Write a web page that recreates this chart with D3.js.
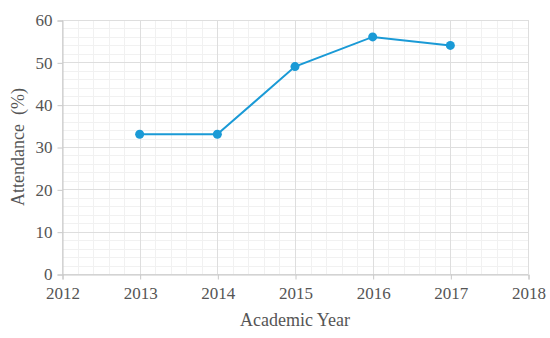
<!DOCTYPE html>
<html>
<head>
<meta charset="utf-8">
<script src="https://cdn.jsdelivr.net/npm/d3@7"></script>
<style>
  body { margin: 0; background: #fff; }
  svg text { font-family: "Liberation Serif", "Times New Roman", serif; }
</style>
</head>
<body>
<div class="chart"></div>
<script>
const years = [2013, 2014, 2015, 2016, 2017];
const attendance = [33, 33, 49, 56, 54];
const xTicks = [2012, 2013, 2014, 2015, 2016, 2017, 2018];
const yTicks = [0, 10, 20, 30, 40, 50, 60];

const WIDTH = 550;
const HEIGHT = 338;
const LEFT = 62;
const RIGHT = 528;
const TOP = 20;
const BOTTOM = 274;
const FONT = "Liberation Serif, Times New Roman, serif";

const svg = d3.create("svg").attr("width", WIDTH).attr("height", HEIGHT);

const x = d3.scaleLinear().domain([2012, 2018]).range([LEFT, RIGHT]);
const y = d3.scaleLinear().domain([0, 60]).range([BOTTOM, TOP]);

// minor grid
const minorX = d3.range(2012, 2018.001, 0.2);
const minorY = d3.range(0, 60.001, 2);

svg.append("g")
  .selectAll()
  .data(minorX)
  .join("line")
  .attr("x1", d => Math.round(x(d)) + 0.5)
  .attr("x2", d => Math.round(x(d)) + 0.5)
  .attr("y1", TOP)
  .attr("y2", BOTTOM)
  .style("stroke", "#f1f1f1");

svg.append("g")
  .selectAll()
  .data(minorY)
  .join("line")
  .attr("x1", LEFT)
  .attr("x2", RIGHT)
  .attr("y1", d => Math.round(y(d)) + 0.5)
  .attr("y2", d => Math.round(y(d)) + 0.5)
  .style("stroke", "#f1f1f1");

// major grid
svg.append("g")
  .selectAll()
  .data(xTicks)
  .join("line")
  .attr("x1", d => Math.round(x(d)) + 0.5)
  .attr("x2", d => Math.round(x(d)) + 0.5)
  .attr("y1", TOP)
  .attr("y2", BOTTOM)
  .style("stroke", "#dedede");

svg.append("g")
  .selectAll()
  .data(yTicks)
  .join("line")
  .attr("x1", LEFT)
  .attr("x2", RIGHT)
  .attr("y1", d => Math.round(y(d)) + 0.5)
  .attr("y2", d => Math.round(y(d)) + 0.5)
  .style("stroke", "#dedede");

// axes
const xAxis = d3.axisBottom(x).tickValues(xTicks).tickFormat(d3.format("d")).tickSize(5).tickPadding(7);
const yAxis = d3.axisLeft(y).tickValues(yTicks).tickSize(5).tickPadding(5);

const gx = svg.append("g")
  .attr("transform", `translate(0.5, ${Math.round(BOTTOM) + 0.5})`)
  .call(xAxis);
const gy = svg.append("g")
  .attr("transform", `translate(${LEFT + 0.5}, 0.5)`)
  .call(yAxis);

for (const g of [gx, gy]) {
  g.attr("font-family", FONT).attr("font-size", 17);
  g.select(".domain").style("stroke", "#c8c8c8");
  g.selectAll(".tick line").style("stroke", "#c8c8c8");
  g.selectAll(".tick text").attr("fill", "#555");
}

// axis titles
svg.append("text")
  .attr("x", (LEFT + RIGHT) / 2)
  .attr("y", 326)
  .attr("text-anchor", "middle")
  .attr("font-family", FONT)
  .attr("font-size", 18)
  .attr("fill", "#555")
  .text("Academic Year");

svg.append("text")
  .attr("transform", `translate(24, ${(TOP + BOTTOM) / 2}) rotate(-90)`)
  .attr("text-anchor", "middle")
  .attr("font-family", FONT)
  .attr("font-size", 18)
  .attr("fill", "#555")
  .style("white-space", "pre")
  .text("Attendance  (%)");

// line
const line = d3.line()
  .x((d, i) => x(years[i]))
  .y(d => y(d));

svg.append("path")
  .attr("d", line(attendance))
  .attr("fill", "none")
  .attr("stroke", "#1a9ad6")
  .attr("stroke-width", 2);

svg.append("g")
  .selectAll()
  .data(attendance)
  .join("circle")
  .attr("cx", (d, i) => x(years[i]))
  .attr("cy", d => y(d))
  .attr("r", 4.5)
  .attr("fill", "#1a9ad6");

document.querySelector(".chart").append(svg.node());
</script>
</body>
</html>
